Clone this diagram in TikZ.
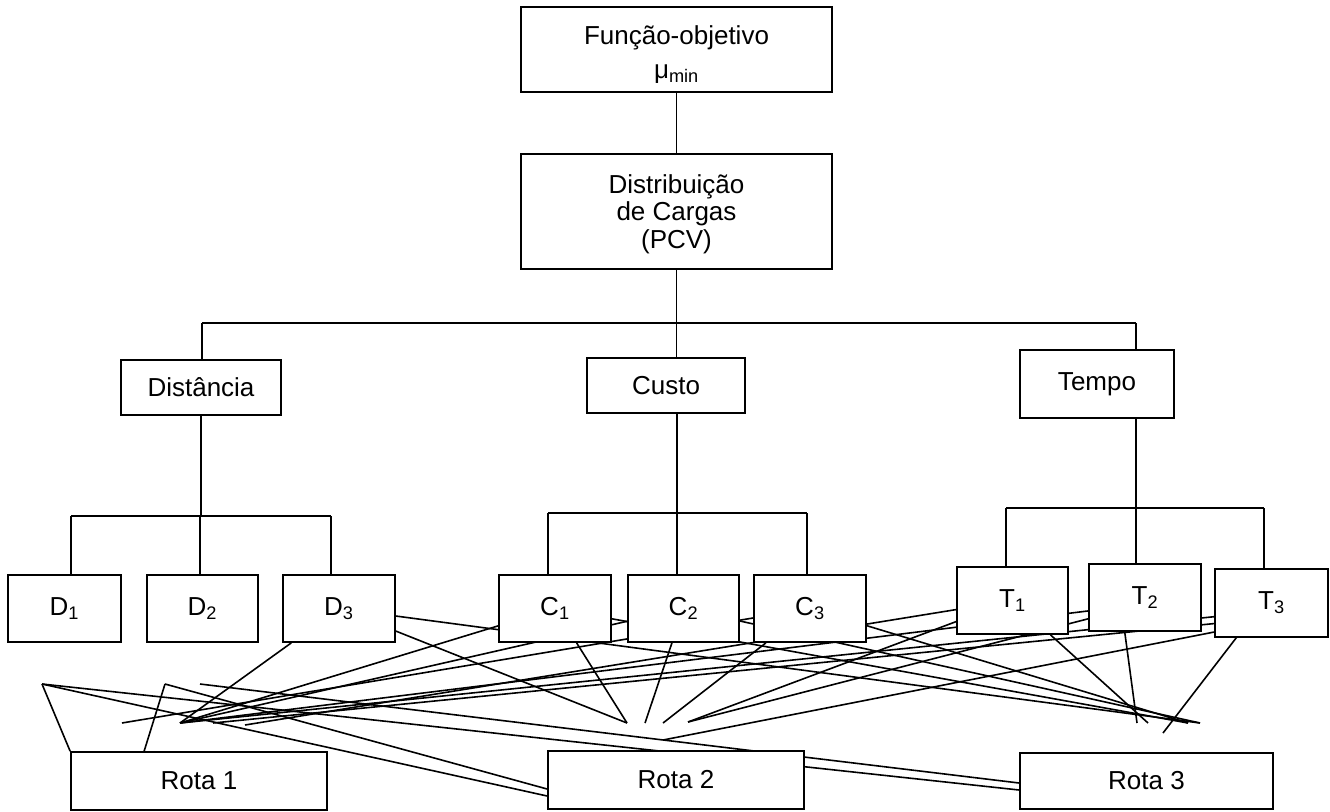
\documentclass[tikz,border=0pt]{standalone}
\usepackage{fontspec}
\setmainfont{Liberation Sans}
\usetikzlibrary{calc}
\pgfdeclarelayer{background}
\pgfsetlayers{background,main}
\begin{document}
\begin{tikzpicture}[x=0.75pt,y=-0.75pt,
  box/.style={draw, fill=white, line width=1.3pt, inner sep=0pt, align=center,
    font=\fontsize{19.5}{20.5}\selectfont},
  sz/.style 2 args={minimum width=#1*0.75pt, minimum height=#2*0.75pt},
  link/.style={line width=1.3pt},
  wire/.style={line width=1.2pt}]
\useasboundingbox (0,0) rectangle (1330,811);

% ---- boxes ----
\node[box, sz={311}{85}]  (fo)   at (676.5,49.5)  {\rule{0pt}{21pt}Função-objetivo\\[5pt]μ\textsubscript{min}};
\node[box, sz={311}{115}] (dist) at (676.5,211.5) {\rule{0pt}{18pt}Distribuição\\de Cargas\\(PCV)};

\node[box, sz={160}{55}] (distancia) at (201,387.5) {Distância};
\node[box, sz={158}{55}] (custo)     at (666,385.5) {Custo};
\node[box, sz={154}{68}] (tempo)     at (1097,384)  {Tempo};

\node[box, sz={113}{67}] (d1) at (64.5,608.5)  {D\textsubscript{1}};
\node[box, sz={111}{67}] (d2) at (202.5,608.5) {D\textsubscript{2}};
\node[box, sz={112}{67}] (d3) at (339,608.5)   {D\textsubscript{3}};
\node[box, sz={112}{67}] (c1) at (555,608.5)   {C\textsubscript{1}};
\node[box, sz={111}{67}] (c2) at (683.5,608.5) {C\textsubscript{2}};
\node[box, sz={112}{67}] (c3) at (810,608.5)   {C\textsubscript{3}};
\node[box, sz={111}{67}] (t1) at (1012.5,600.5) {T\textsubscript{1}};
\node[box, sz={112}{67}] (t2) at (1145,597.5)  {T\textsubscript{2}};
\node[box, sz={113}{68}] (t3) at (1271.5,603)  {T\textsubscript{3}};

\node[box, sz={256}{58}] (rota1) at (199,781)    {Rota 1};
\node[box, sz={256}{58}] (rota2) at (676,780)    {Rota 2};
\node[box, sz={253}{56}] (rota3) at (1146.5,781) {Rota 3};

% ---- tree connectors ----
\coordinate (jl) at (202,323);
\coordinate (jr) at (1136,323);
\draw[link] (fo) -- (dist);
\draw[link] (dist.south) -- (dist.south |- jl);
\draw[link] (jl) -- (jr);
\draw[link] (jl) -- (jl |- distancia.north);
\draw[link] (dist.south |- jl) -- (dist.south |- custo.north);
\draw[link] (jr) -- (jr |- tempo.north);

\coordinate (dl) at (71,516);
\coordinate (dm) at (200,516);
\coordinate (dr) at (331,516);
\draw[link] (distancia.south) -- (distancia.south |- dl);
\draw[link] (dl) -- (dr);
\draw[link] (dl) -- (dl |- d1.north);
\draw[link] (dm) -- (dm |- d2.north);
\draw[link] (dr) -- (dr |- d3.north);

\coordinate (cl) at (548,513);
\coordinate (cm) at (677,513);
\coordinate (cr) at (807,513);
\draw[link] (cm |- custo.south) -- (cm);
\draw[link] (cl) -- (cr);
\draw[link] (cl) -- (cl |- c1.north);
\draw[link] (cm) -- (cm |- c2.north);
\draw[link] (cr) -- (cr |- c3.north);

\coordinate (tl) at (1006,508);
\coordinate (tm) at (1136,508);
\coordinate (tr) at (1264,508);
\draw[link] (tm |- tempo.south) -- (tm);
\draw[link] (tl) -- (tr);
\draw[link] (tl) -- (tl |- t1.north);
\draw[link] (tm) -- (tm |- t2.north);
\draw[link] (tr) -- (tr |- t3.north);

% ---- loose ends of the route wiring ----
\coordinate (a1) at (122,723);
\coordinate (a2) at (180,723);
\coordinate (a3) at (213,723);
\coordinate (a4) at (245,725);
\coordinate (b1) at (627,723);
\coordinate (b2) at (645,723);
\coordinate (b3) at (663,723);
\coordinate (b4) at (688,722);
\coordinate (b5) at (663,740);
\coordinate (r1) at (1137,723);
\coordinate (r2) at (1148,723);
\coordinate (r3) at (1163,733);
\coordinate (r4) at (1188,723);
\coordinate (r5) at (1200,723);
\coordinate (p0) at (200,684);
\coordinate (p1) at (42,684);
\coordinate (p2) at (165,684);

% ---- route wiring, kept behind the boxes ----
\begin{pgfonlayer}{background}
\draw[wire] (d3) -- (a2);  \draw[wire] (d3) -- (b1);  \draw[wire] (d3) -- (r5);
\draw[wire] (c1) -- (a2);  \draw[wire] (c1) -- (b1);  \draw[wire] (c1) -- (r4);
\draw[wire] (c2) -- (a2);  \draw[wire] (c2) -- (b2);  \draw[wire] (c2) -- (r5);
\draw[wire] (c3) -- (a1);  \draw[wire] (c3) -- (b3);  \draw[wire] (c3) -- (r4);
\draw[wire] (t1) -- (a4);  \draw[wire] (t1) -- (b4);  \draw[wire] (t1) -- (r2);
\draw[wire] ($(t2)+(-25,9.5)$) -- (a2);
\draw[wire] ($(t2)+(-15,10.5)$) -- (b4);
\draw[wire] ($(t2)+(-25,-0.5)$) -- (r1);
\draw[wire] ($(t3)+(-21.5,10)$) -- (a2);
\draw[wire] ($(t3)+(-21.5,17)$) -- (a3);
\draw[wire] ($(t3)+(-21.5,22)$) -- (b5);
\draw[wire] ($(t3)+(-8.5,0)$) -- (r3);

\draw[wire] (rota1.north west) -- (p1);
\draw[wire] ($(rota1.north west)+(74,0)$) -- (p2);
\draw[wire] (p1) -- ($(rota2.west)+(0,16)$);
\draw[wire] (p2) -- ($(rota2.west)+(0,9)$);
\draw[wire] (p1) -- ($(rota3.west)+(0,9)$);
\draw[wire] (p0) -- ($(rota3.west)+(0,2)$);
\end{pgfonlayer}
\end{tikzpicture}
\end{document}
